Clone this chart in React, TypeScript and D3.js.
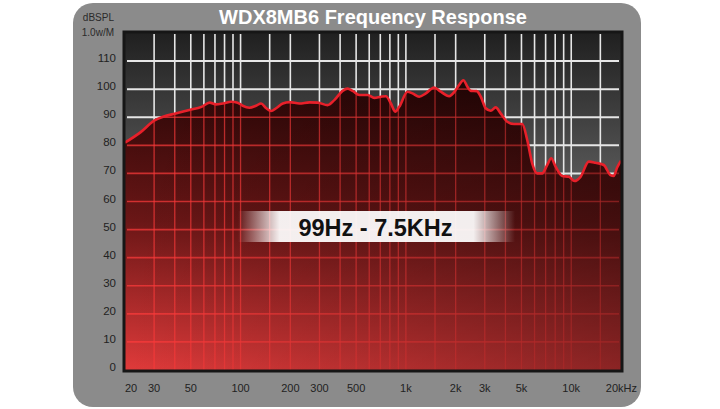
import React from "react";
import * as d3 from "d3";

const FREQS = [20, 25, 30, 34, 41, 49, 58, 65, 71, 78, 88, 96, 103, 113, 124, 133, 143, 153, 164, 180, 198, 227, 261, 293, 336, 369, 414, 444, 476, 523, 587, 644, 706, 757, 812, 861, 911, 1023, 1096, 1203, 1320, 1482, 1626, 1825, 2003, 2097, 2226, 2354, 2468, 2682, 2837, 3040, 3258, 3492, 3742, 4104, 4506, 5057, 5418, 5806, 6223, 6669, 7156, 7566, 8043, 8817, 9672, 10470, 11380, 12770, 14020, 15740, 17260, 18080, 18930, 20000];
const SPL = [81.0, 84.8, 88.8, 90.2, 91.4, 92.6, 93.7, 95.2, 94.6, 94.9, 95.5, 95.2, 94.1, 93.4, 94.1, 94.9, 93.2, 92.2, 93.2, 94.9, 95.4, 94.9, 95.3, 95.2, 94.3, 96.1, 99.4, 100.2, 99.4, 97.9, 97.9, 96.9, 97.3, 97.5, 94.9, 92.0, 93.7, 99.1, 98.5, 97.3, 98.5, 100.6, 99.1, 97.5, 99.7, 101.5, 103.2, 100.9, 99.4, 99.3, 97.3, 93.2, 92.3, 93.5, 91.4, 88.4, 87.6, 87.6, 81.9, 73.6, 70.0, 70.0, 73.0, 75.4, 72.4, 69.1, 68.8, 67.3, 68.8, 74.2, 73.8, 73.0, 69.4, 69.1, 72.0, 74.5];

const Y_TICKS = [0, 10, 20, 30, 40, 50, 60, 70, 80, 90, 100, 110];
const Y_GRID = [10, 20, 30, 40, 50, 60, 70, 80, 90, 100, 110];
const X_TICKS = [20, 30, 50, 100, 200, 300, 500, 1000, 2000, 3000, 5000, 10000, 20000];
const X_LABELS = ["20", "30", "50", "100", "200", "300", "500", "1k", "2k", "3k", "5k", "10k", "20kHz"];
const X_GRID = [30, 40, 50, 60, 70, 80, 90, 100, 150, 200, 300, 400, 500, 600, 700, 800, 900, 1000, 1500, 2000, 3000, 4000, 5000, 6000, 7000, 8000, 9000, 10000, 15000];

const TITLE = "WDX8MB6 Frequency Response";
const UNIT1 = "dBSPL";
const UNIT2 = "1.0w/M";
const BAND = "99Hz - 7.5KHz";

export default function App() {
  const L = 125, R = 621, T = 33, B = 370;
  const x = d3.scaleLog().domain([20, 20000]).range([L, R]);
  const y = d3.scaleLinear().domain([0, 120]).range([B, T]);
  const pts = FREQS.map((f, i) => [f, SPL[i]] as [number, number]);
  const line = d3.line<[number, number]>().x(d => x(d[0])).y(d => y(d[1])).curve(d3.curveMonotoneX);
  const area = d3.area<[number, number]>().x(d => x(d[0])).y0(B).y1(d => y(d[1])).curve(d3.curveMonotoneX);
  const areaPath = area(pts) || "";
  const font = "'Liberation Sans', Arial, sans-serif";

  const grid = (stroke: string, hw: number, vw: number) => (
    <g>
      {Y_GRID.map(v => (
        <line key={"h" + v} x1={L + 2} x2={R - 2} y1={y(v)} y2={y(v)} stroke={stroke} strokeWidth={hw} />
      ))}
      {X_GRID.map(f => (
        <line key={"v" + f} x1={x(f)} x2={x(f)} y1={T + 1} y2={B} stroke={stroke} strokeWidth={vw} />
      ))}
    </g>
  );

  return (
    <svg width={720} height={409} style={{ position: "absolute", left: 0, top: 0 }} fontFamily={font}>
      <defs>
        <linearGradient id="bgG" gradientUnits="userSpaceOnUse" x1={0} y1={T} x2={0} y2={B}>
          <stop offset="0" stopColor="#202020" />
          <stop offset="1" stopColor="#a0a0a0" />
        </linearGradient>
        <linearGradient id="redG" gradientUnits="userSpaceOnUse" x1={0} y1={70} x2={0} y2={B}>
          <stop offset="0" stopColor="#260505" />
          <stop offset="0.5" stopColor="#6a1616" />
          <stop offset="1" stopColor="#e03a3a" />
        </linearGradient>
        <linearGradient id="darkG" gradientUnits="userSpaceOnUse" x1={L} y1={0} x2={R} y2={0}>
          <stop offset="0" stopColor="#000" stopOpacity={0} />
          <stop offset="1" stopColor="#000" stopOpacity={0.38} />
        </linearGradient>
        <linearGradient id="bandG" x1="0" y1="0" x2="1" y2="0">
          <stop offset="0" stopColor="#fff" stopOpacity={0} />
          <stop offset="0.15" stopColor="#fff" stopOpacity={0.93} />
          <stop offset="0.85" stopColor="#fff" stopOpacity={0.93} />
          <stop offset="1" stopColor="#fff" stopOpacity={0} />
        </linearGradient>
        <clipPath id="plotClip">
          <rect x={L} y={T} width={R - L} height={B - T} />
        </clipPath>
        <clipPath id="areaClip">
          <path d={areaPath} />
        </clipPath>
      </defs>

      <rect x={73} y={3} width={568} height={404} rx={20} fill="#8b8b8b" />

      <text x={(L + R) / 2} y={24} textAnchor="middle" fontSize={20} fontWeight="bold" fill="#fff">{TITLE}</text>
      <text x={114} y={21} textAnchor="end" fontSize={10} fill="#2a2a2a">{UNIT1}</text>
      <text x={114} y={36} textAnchor="end" fontSize={10} fill="#2a2a2a">{UNIT2}</text>

      <g clipPath="url(#plotClip)">
        <rect x={L} y={T} width={R - L} height={B - T} fill="url(#bgG)" />
        {grid("#e6e6e6", 2, 1.6)}
        <g clipPath="url(#areaClip)">
          <rect x={L} y={T} width={R - L} height={B - T} fill="url(#redG)" />
          {grid("rgba(255,60,60,0.72)", 1.7, 1.3)}
          <rect x={L} y={T} width={R - L} height={B - T} fill="url(#darkG)" />
        </g>
        <path d={line(pts) || ""} fill="none" stroke="#e8202a" strokeWidth={2.6} strokeLinejoin="round" />
      </g>
      <rect x={L - 1} y={T - 1} width={R - L + 2} height={B - T + 2} fill="none" stroke="#161616" strokeWidth={3} />

      <rect x={238} y={211} width={277} height={31} fill="url(#bandG)" />
      <text x={375.5} y={235.5} textAnchor="middle" fontSize={23.5} fontWeight="bold" fill="#111">{BAND}</text>

      {Y_TICKS.map(v => (
        <text key={"yl" + v} x={116} y={y(v) + 1} textAnchor="end" fontSize={11.5} fill="#222">{v}</text>
      ))}
      {X_TICKS.map((f, i) => {
        const last = i === X_TICKS.length - 1;
        const first = i === 0;
        return (
          <text key={"xl" + f} x={first ? L : last ? 637 : x(f)} y={392} textAnchor={first ? "start" : last ? "end" : "middle"} fontSize={11} fill="#222">{X_LABELS[i]}</text>
        );
      })}
    </svg>
  );
}
